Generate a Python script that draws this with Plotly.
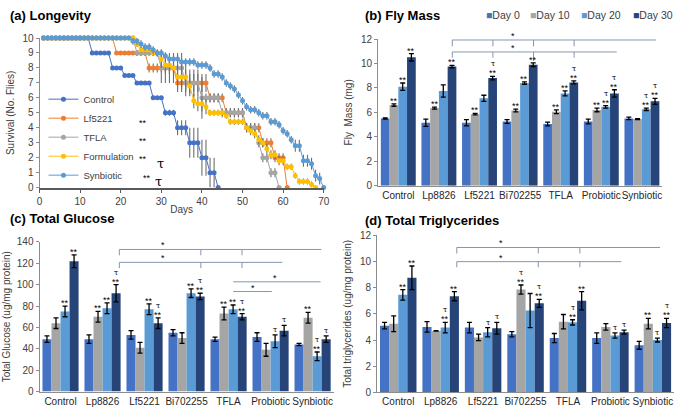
import plotly.graph_objects as go

# ---- (a) survival, one value per day starting at day 1 ----
DAYS = list(range(1, 71))

control_surv = [10, 10, 10, 10, 10, 10, 10, 10, 10, 10, 10, 10,
                9, 9, 9, 9, 9, 8, 8, 8, 7.5, 7.5, 7.5, 7, 7, 7, 7,
                6, 6, 6, 5, 5, 5, 4, 4, 4, 3, 3, 3, 2, 2, 1, 1, 0]
control_err = [0, 0, 0, 0, 0, 0, 0, 0, 0, 0, 0, 0, 0, 0, 0, 0, 0, 0, 0, 0,
               0, 0, 0, 0, 0, 0, 0, 0, 0, 0, 0.2, 0.2, 0.2, 0.5, 0.5, 0.5,
               1, 1, 1, 1.2, 1.2, 1, 1, 0]

lf_surv = [10, 10, 10, 10, 10, 10, 10, 10, 10, 10, 10, 10, 10, 10, 10, 10, 10, 10,
           9, 9, 9, 9, 9, 9, 9, 9, 8, 8, 8, 8, 8, 8, 8,
           7, 7, 7, 7, 7, 7, 7, 7, 6, 6, 6, 6, 5, 5, 5, 5, 5,
           4, 4, 4, 4, 3, 3, 3, 2, 2, 2, 0]
lf_err = [0, 0, 0, 0, 0, 0, 0, 0, 0, 0, 0, 0, 0, 0, 0, 0, 0, 0, 0, 0,
          0, 0, 0, 0, 0, 0, 0.3, 0.3, 0.3, 0.3, 0.3, 0.3, 0.3,
          0.6, 0.6, 0.6, 0.6, 0.6, 0.6, 0.6, 0.6, 0.3, 0.3, 0.3, 0.3,
          0.3, 0.3, 0.3, 0.3, 0.3, 0.3, 0.3, 0.3, 0.3,
          0.3, 0.3, 0.3, 0.3, 0.3, 0.3, 0]

tfla_surv = [10, 10, 10, 10, 10, 10, 10, 10, 10, 10, 10, 10, 10, 10, 10, 10,
             10, 10, 10, 10, 10, 10, 10, 9, 9, 9, 9, 9, 9, 8, 8, 8, 8, 8, 8,
             7, 7, 7, 7, 6, 6, 6, 6, 6, 5, 5, 5, 5, 5, 5, 4, 4, 4, 3, 2, 2, 1, 1, 0]
tfla_err = [0, 0, 0, 0, 0, 0, 0, 0, 0, 0, 0, 0, 0, 0, 0, 0, 0, 0, 0, 0,
            0, 0, 0, 0.2, 0.2, 0.2, 0.2, 0.2, 0.2, 1, 1, 1, 1, 1, 1,
            0.9, 0.9, 0.9, 0.9, 1.4, 0.3, 0.3, 0.3, 0.3, 0.3, 0.3, 0.3, 0.3, 0.3, 0.3,
            0.3, 0.3, 0.3, 0.3, 0.3, 0.3, 0.3, 0.3, 0]

form_surv = [10, 10, 10, 10, 10, 10, 10, 10, 10, 10, 10, 10, 10, 10, 10, 10,
             10, 10, 10, 10, 10, 10, 10, 9.6, 9.2, 9.2, 9.2, 9, 9, 8.6, 8.2, 8.2, 8,
             7.4, 7.4, 7.4, 6.8, 5.8, 5.6, 5.6, 5.4, 5, 5, 5, 5, 4.8,
             4.4, 4.4, 4.4, 4.4, 4, 3.8, 3.6, 3.2, 3, 2.6, 2.2, 2.2, 1.8, 1.8,
             1.4, 1.4, 0.8, 0.4, 0.4, 0.4, 0.2, 0]
form_err = [0, 0, 0, 0, 0, 0, 0, 0, 0, 0, 0, 0, 0, 0, 0, 0, 0, 0, 0, 0,
            0, 0, 0, 0.2, 0.2, 0.2, 0.2, 0.2, 0.2, 0.6, 0.6, 0.6, 0.6,
            0.8, 0.8, 0.8, 0.5, 0.5, 0.5, 0.5, 0.5, 0.2, 0.2, 0.2, 0.2, 0.2,
            0.2, 0.2, 0.2, 0.2, 0.3, 0.3, 0.3, 0.3, 0.3, 0.3, 0.3, 0.3, 0.3, 0.3,
            0.2, 0.2, 0.2, 0.2, 0.2, 0.2, 0.2, 0]

syn_surv = [10, 10, 10, 10, 10, 10, 10, 10, 10, 10, 10, 10, 10, 10, 10, 10,
            10, 10, 10, 10, 10, 10, 9.8, 9.8, 9.6, 9.4, 9.4, 9.2, 9, 9, 8.8,
            8.6, 8.6, 8.6, 8.4, 8.4, 8.4, 8.4, 8.2, 8.2, 8.2, 8, 7.6, 7.6, 7.4,
            7, 6.8, 6.6, 6.2, 5.8, 5.4, 5.2, 5.2, 5, 4.8, 4.8, 4.4, 4.4, 4.2,
            3.8, 3.6, 3.2, 2.8, 2.8, 1.8, 1.8, 1.6, 0.8, 0.6, 0]
syn_err = [0, 0, 0, 0, 0, 0, 0, 0, 0, 0, 0, 0, 0, 0, 0, 0, 0, 0, 0, 0,
           0, 0, 0.25, 0.25, 0.25, 0.25, 0.25, 0.25, 0.25, 0.25, 0.25, 0.25,
           0.25, 0.25, 0.25, 0.25, 0.25, 0.25, 0.25, 0.25, 0.25, 0.25, 0.25,
           0.25, 0.25, 0.25, 0.25, 0.25, 0.25, 0.25, 0.25, 0.25, 0.25, 0.25,
           0.25, 0.25, 0.25, 0.25, 0.25, 0.25, 0.25, 0.25,
           0.4, 0.4, 0.4, 0.4, 0.4, 0.4, 0.4, 0]

# ---- bar panels ----
GROUPS = ['Control', 'Lp8826', 'Lf5221', 'Bi702255', 'TFLA', 'Probiotic', 'Synbiotic']
TIMEPOINTS = ['Day 0', 'Day 10', 'Day 20', 'Day 30']

mass = [[5.5, 5.15, 5.15, 5.25, 5.05, 5.25, 5.5],
        [6.6, 6.35, 5.85, 6.15, 6.05, 6.2, 5.45],
        [8.1, 7.75, 7.15, 8.4, 7.55, 6.45, 6.25],
        [10.5, 9.75, 8.8, 9.9, 8.45, 7.55, 6.9]]
mass_err = [[0.05, 0.3, 0.25, 0.15, 0.15, 0.2, 0.1],
            [0.1, 0.08, 0.06, 0.12, 0.15, 0.15, 0.04],
            [0.3, 0.5, 0.25, 0.1, 0.2, 0.1, 0.1],
            [0.3, 0.1, 0.15, 0.15, 0.12, 0.3, 0.25]]

glucose = [[49, 49, 53, 55, 49, 51, 44],
           [64, 70, 41, 50, 73, 39, 69],
           [75, 78, 77, 92, 77, 47, 33],
           [122, 92, 64, 89, 70, 57, 49]]
glucose_err = [[3, 4, 4, 3, 2, 4, 1],
               [5, 5, 5, 5, 6, 6, 5],
               [5, 5, 5, 4, 4, 6, 4],
               [6, 8, 5, 3, 3, 5, 3]]

trig = [[5.1, 5.0, 4.95, 4.45, 4.15, 4.15, 3.6],
        [5.25, 4.7, 4.2, 7.85, 5.4, 5.0, 5.25],
        [7.45, 4.95, 4.6, 6.25, 5.35, 4.35, 4.0],
        [8.75, 7.35, 4.9, 6.8, 7.0, 4.6, 5.3]]
trig_err = [[0.25, 0.4, 0.4, 0.2, 0.35, 0.4, 0.3],
            [0.6, 0.02, 0.25, 0.35, 0.55, 0.25, 0.4],
            [0.4, 0.4, 0.35, 1.3, 0.2, 0.2, 0.15],
            [0.9, 0.35, 0.45, 0.3, 0.7, 0.15, 0.35]]

# significance marks (group, timepoint, label)
mass_marks = [(0, 1, '**'), (0, 2, '**'), (0, 3, '**'), (1, 1, '**'), (1, 3, '**'),
              (2, 1, '**'), (2, 3, 'τ**'), (3, 1, '**'), (3, 2, '**'), (3, 3, '**'),
              (4, 1, '**'), (4, 2, '**'), (4, 3, 'τ**'), (5, 1, '**'), (5, 2, 'τ**'),
              (5, 3, 'τ**'), (6, 2, 'τ**'), (6, 3, 'τ**')]
glucose_marks = [(0, 2, '**'), (0, 3, '**'), (1, 1, '**'), (1, 2, '**'), (1, 3, 'τ**'),
                 (2, 2, '**'), (2, 3, 'τ**'), (3, 2, '**'), (3, 3, 'τ**'), (4, 1, '**'),
                 (4, 2, '**'), (4, 3, 'τ**'), (5, 2, 'τ'), (5, 3, 'τ'), (6, 1, '**'),
                 (6, 2, 'τ**'), (6, 3, 'τ')]
trig_marks = [(0, 2, '**'), (0, 3, '**'), (1, 2, 'τ**'), (1, 3, '**'), (2, 2, 'τ'),
              (2, 3, 'τ'), (3, 1, 'τ**'), (3, 3, 'τ**'), (4, 2, 'τ**'), (4, 3, '**'),
              (5, 2, 'τ'), (5, 3, 'τ'), (6, 1, '**'), (6, 2, 'τ'), (6, 3, 'τ**')]

# marks shown beside the survival legend
legend_marks = ['', '**', '**', '** τ', '** τ']

LINE_COLORS = ['#4472C4', '#ED7D31', '#A5A5A5', '#FFC000', '#5B9BD5']
BAR_COLORS = ['#4472C4', '#A5A5A5', '#5B9BD5', '#264478']
BRACKET = '#8496B0'
FONT = 'Liberation Sans, Arial, sans-serif'
SERIF = 'DejaVu Serif, serif'
BARGAP = 0.14

fig = go.Figure()

surv_series = [('Control', control_surv, control_err),
               ('Lf5221', lf_surv, lf_err),
               ('TFLA', tfla_surv, tfla_err),
               ('Formulation', form_surv, form_err),
               ('Synbiotic', syn_surv, syn_err)]
for (name, vals, errs), col in zip(surv_series, LINE_COLORS):
    fig.add_trace(go.Scatter(
        x=DAYS[:len(vals)], y=vals, name=name, mode='lines+markers',
        line=dict(color=col, width=1), marker=dict(color=col, size=5),
        error_y=dict(type='data', array=errs, color='#6F6F6F', thickness=1.1, width=0),
        cliponaxis=False, xaxis='x', yaxis='y'))

panels = [(mass, mass_err, '2'), (glucose, glucose_err, '3'), (trig, trig_err, '4')]
for vals, errs, ax in panels:
    for k, tp in enumerate(TIMEPOINTS):
        fig.add_trace(go.Bar(
            x=GROUPS, y=vals[k], name=tp, marker=dict(color=BAR_COLORS[k], line=dict(width=0)),
            error_y=dict(type='data', array=errs[k], color='black', thickness=1.3, width=2.5),
            xaxis='x' + ax, yaxis='y' + ax, showlegend=False))

annotations = []
shapes = []


def paper_text(txt, x, y, size, family=FONT, color='black', xanchor='center'):
    annotations.append(dict(text=txt, x=x / 685, y=1 - y / 415, xref='paper', yref='paper',
                            xanchor=xanchor, yanchor='middle', showarrow=False,
                            font=dict(size=size, color=color, family=family)))


# panel titles
for txt, x, y in [('(a) Longevity', 5, 10), ('(b) Fly Mass', 365, 10),
                  ('(c) Total Glucose', 5, 219), ('(d) Total Triglycerides', 365, 221)]:
    paper_text('<b>%s</b>' % txt, x, y, 13, xanchor='left')

# key for the bar panels (top right)
for (tp, col), x in zip(zip(TIMEPOINTS, BAR_COLORS), [487, 532, 584, 636]):
    paper_text('<span style="color:%s">■</span>%s' % (col, tp), x, 9, 10.5,
               color='#404040', xanchor='left')

# stars beside the survival legend entries
for i, lab in enumerate(legend_marks):
    y = 101 + 19 * i
    if '**' in lab:
        paper_text('**', 142 if i < 4 else 146, y, 9)
    if 'τ' in lab:
        paper_text('τ', 160 if i < 4 else 158, y + 4, 13, family=SERIF)

offsets = [-(1 - BARGAP) / 2 + (1 - BARGAP) / 4 * (k + 0.5) for k in range(4)]

for (vals, errs, ax), marks in zip(panels, [mass_marks, glucose_marks, trig_marks]):
    for g, k, lab in marks:
        top = vals[k][g] + errs[k][g]
        xpos = g + offsets[k]
        shift = 0
        if '**' in lab:
            annotations.append(dict(text='**', x=xpos, y=top, xref='x' + ax, yref='y' + ax,
                                    xanchor='center', yanchor='bottom', yshift=-4, showarrow=False,
                                    font=dict(size=9, color='black', family=FONT)))
            shift = 7
        if 'τ' in lab:
            annotations.append(dict(text='τ', x=xpos, y=top, xref='x' + ax, yref='y' + ax,
                                    xanchor='center', yanchor='bottom', yshift=shift - 1,
                                    showarrow=False,
                                    font=dict(size=7.5, color='black', family=SERIF)))


def bracket(ax, y, x0, x1, ticks, tick_bottom, star_x=None):
    shapes.append(dict(type='line', xref='x' + ax, yref='y' + ax, x0=x0, x1=x1, y0=y, y1=y,
                       line=dict(color=BRACKET, width=1)))
    for t in ticks:
        shapes.append(dict(type='line', xref='x' + ax, yref='y' + ax, x0=t, x1=t, y0=y,
                           y1=tick_bottom, line=dict(color=BRACKET, width=1)))
    if star_x is not None:
        annotations.append(dict(text='*', x=star_x, y=y, xref='x' + ax, yref='y' + ax,
                                yanchor='bottom', yshift=-3, showarrow=False,
                                font=dict(size=9, color='black', family=FONT)))


bracket('2', 11.92, 1.33, 6.35, [1.33, 2.33, 3.33, 4.33], 11.4, 2.83)
bracket('2', 10.94, 1.33, 5.38, [1.33, 2.33, 4.33], 10.47, 2.83)
bracket('2', 10.94, 3.33, 3.33, [3.33], 10.2)
bracket('3', 133, 1.4, 6.21, [1.4, 3.34, 4.32], 127.5, 2.43)
bracket('3', 120.9, 1.4, 5.28, [1.4, 3.34, 4.32], 115.5, 2.43)
bracket('3', 102.7, 4.11, 6.19, [], 102.7, 5.11)
bracket('3', 93.6, 4.11, 5.03, [], 93.6, 4.57)
bracket('4', 11.06, 1.38, 6.17, [1.38, 3.30, 4.28], 10.6, 2.43)
bracket('4', 9.98, 1.38, 5.26, [1.38, 3.30, 4.28], 9.55, 2.43)

axis_font = dict(size=10, color='#404040', family=FONT)
title_font = dict(size=10, color='#404040', family=FONT)
bar_y = dict(showgrid=False, zeroline=False, showline=True, linecolor='#8C8C8C', linewidth=1,
             ticks='outside', ticklen=3, tickcolor='#8C8C8C', tickfont=axis_font)
bar_x = dict(showgrid=False, showline=True, linecolor='#8C8C8C', linewidth=1, ticks='',
             tickangle=0, tickfont=dict(size=10, color='#262626', family=FONT),
             range=[-0.5, 6.5])

fig.update_layout(
    width=685, height=415, margin=dict(l=0, r=0, t=0, b=0),
    plot_bgcolor='white', paper_bgcolor='white',
    barmode='group', bargap=BARGAP, bargroupgap=0,
    font=dict(family=FONT, size=10, color='#404040'),
    xaxis=dict(domain=[37 / 685, 325 / 685], anchor='y', range=[0, 70], dtick=10,
               showgrid=False, zeroline=False, showline=True, linecolor='#595959', linewidth=2,
               ticks='outside', ticklen=3, tickcolor='#595959', tickfont=axis_font,
               title=dict(text='Days', font=title_font, standoff=0)),
    yaxis=dict(domain=[1 - 187 / 415, 1 - 33 / 415], anchor='x', range=[0, 10], dtick=1,
               showgrid=False, zeroline=False, showline=True, linecolor='#8C8C8C', linewidth=1,
               ticks='outside', ticklen=3, tickcolor='#8C8C8C', tickfont=axis_font,
               title=dict(text='Survival (No. Flies)', font=title_font, standoff=5)),
    xaxis2=dict(domain=[380 / 685, 668 / 685], anchor='y2', **bar_x),
    yaxis2=dict(domain=[1 - 185 / 415, 1 - 34 / 415], anchor='x2', range=[0, 12], dtick=2,
                title=dict(text='Fly  Mass (mg)', font=title_font, standoff=6), **bar_y),
    xaxis3=dict(domain=[37 / 685, 335 / 685], anchor='y3', **bar_x),
    yaxis3=dict(domain=[1 - 397 / 415, 1 - 243 / 415], anchor='x3', range=[0, 140], dtick=20,
                title=dict(text='Total Glucose (ug/mg protein)', font=title_font, standoff=4),
                **bar_y),
    xaxis4=dict(domain=[379 / 685, 680 / 685], anchor='y4', **bar_x),
    yaxis4=dict(domain=[1 - 398 / 415, 1 - 236 / 415], anchor='x4', range=[0, 12], dtick=2,
                title=dict(text='Total triglycerides (ug/mg protein)', font=title_font, standoff=6),
                **bar_y),
    legend=dict(x=41 / 685, y=1 - 81 / 415, xanchor='left', yanchor='top',
                bgcolor='rgba(0,0,0,0)', font=dict(size=9.5, color='#404040', family=FONT),
                itemwidth=30),
    annotations=annotations, shapes=shapes,
)

# the page's default body margin would push the figure 8px off the window
fig.write_html('out.html', config={'displayModeBar': False},
               post_script="document.body.style.margin = '0';")
